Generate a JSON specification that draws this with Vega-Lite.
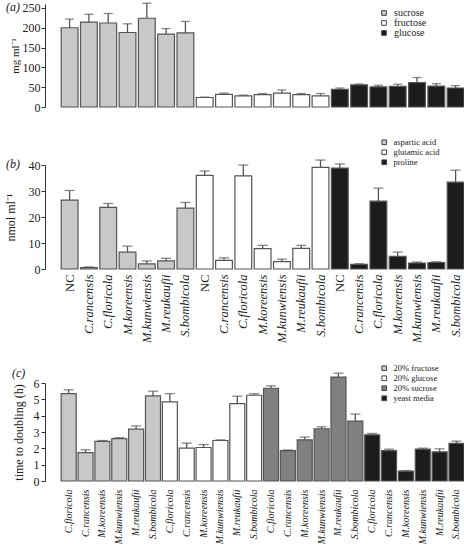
{
  "$schema": "https://vega.github.io/schema/vega-lite/v6.json",
  "padding": {"left": 4, "top": 0, "right": 0, "bottom": 0},
  "spacing": 20,
  "config": {
    "font": "Liberation Serif",
    "view": {"stroke": null},
    "axis": {"labelFont": "Liberation Serif", "titleFont": "Liberation Serif", "labelColor": "#222", "titleColor": "#222", "domainColor": "#333", "tickColor": "#333", "titleFontWeight": "normal", "grid": false, "labelFontSize": 12, "titleFontSize": 12, "labelOverlap": false},
    "legend": {"symbolType": "square", "symbolSize": 22, "symbolStrokeColor": "#444", "symbolStrokeWidth": 1, "labelFont": "Liberation Serif", "labelColor": "#222", "padding": 0, "labelOffset": 5, "rowPadding": 0},
    "title": {"font": "Liberation Serif", "fontSize": 12, "fontWeight": "normal", "fontStyle": "italic", "color": "#222", "anchor": "start", "frame": "group", "baseline": "middle", "offset": 0}
  },
  "resolve": {"scale": {"fill": "independent", "x": "independent", "y": "independent"}, "legend": {"fill": "independent"}},
  "vconcat": [
    {
      "width": 419,
      "height": 103,
      "title": {"text": "(a)", "dx": -39, "dy": 16},
      "data": {"values": [
        {"id": "suc|1", "sugar": "sucrose", "value": 200, "hi": 222},
        {"id": "suc|2", "sugar": "sucrose", "value": 214, "hi": 234},
        {"id": "suc|3", "sugar": "sucrose", "value": 212, "hi": 236},
        {"id": "suc|4", "sugar": "sucrose", "value": 188, "hi": 210},
        {"id": "suc|5", "sugar": "sucrose", "value": 224, "hi": 262},
        {"id": "suc|6", "sugar": "sucrose", "value": 184, "hi": 198},
        {"id": "suc|7", "sugar": "sucrose", "value": 187, "hi": 216},
        {"id": "fru|1", "sugar": "fructose", "value": 24, "hi": 25},
        {"id": "fru|2", "sugar": "fructose", "value": 32, "hi": 35},
        {"id": "fru|3", "sugar": "fructose", "value": 28, "hi": 30},
        {"id": "fru|4", "sugar": "fructose", "value": 31, "hi": 34},
        {"id": "fru|5", "sugar": "fructose", "value": 35, "hi": 43},
        {"id": "fru|6", "sugar": "fructose", "value": 31, "hi": 34},
        {"id": "fru|7", "sugar": "fructose", "value": 28, "hi": 34},
        {"id": "glu|1", "sugar": "glucose", "value": 44.5, "hi": 48},
        {"id": "glu|2", "sugar": "glucose", "value": 56, "hi": 58},
        {"id": "glu|3", "sugar": "glucose", "value": 51, "hi": 55},
        {"id": "glu|4", "sugar": "glucose", "value": 52, "hi": 57.5},
        {"id": "glu|5", "sugar": "glucose", "value": 61.5, "hi": 74.5},
        {"id": "glu|6", "sugar": "glucose", "value": 52.7, "hi": 59},
        {"id": "glu|7", "sugar": "glucose", "value": 48, "hi": 54}
      ]},
      "encoding": {
        "x": {"field": "id", "type": "nominal", "sort": null, "scale": {"paddingInner": 0.13, "paddingOuter": 0.42, "align": 1}, "axis": {"title": null, "labels": false, "ticks": false, "domain": false, "minExtent": 11}}
      },
      "layer": [
        {
          "mark": {"type": "bar", "stroke": "#555", "strokeWidth": 1.2},
          "encoding": {
            "y": {"field": "value", "type": "quantitative", "scale": {"domain": [0, 250]}, "axis": {"values": [0, 50, 100, 150, 200, 250], "tickCount": 20, "format": "d", "tickSize": 4, "labelPadding": 1, "title": "mg ml⁻¹", "titleFontSize": 11, "titlePadding": 2}},
            "fill": {"field": "sugar", "type": "nominal", "scale": {"domain": ["sucrose", "fructose", "glucose"], "range": ["#c8c8c8", "#ffffff", "#1c1c1c"]}, "legend": {"title": null, "orient": "none", "legendX": 334, "legendY": 4, "labelFontSize": 10}}
          }
        },
        {"mark": {"type": "rule", "color": "#555", "strokeWidth": 1.3}, "encoding": {"y": {"field": "value", "type": "quantitative"}, "y2": {"field": "hi"}}},
        {"mark": {"type": "tick", "color": "#555", "thickness": 1.3, "size": 9}, "encoding": {"y": {"field": "hi", "type": "quantitative"}}}
      ]
    },
    {
      "width": 419,
      "height": 104,
      "title": {"text": "(b)", "dx": -39, "dy": 37},
      "data": {"values": [
        {"id": "asp|NC", "amino": "aspartic acid", "value": 26.5, "hi": 30.2},
        {"id": "asp|C.rancensis", "amino": "aspartic acid", "value": 0.5, "hi": 0.8},
        {"id": "asp|C.floricola", "amino": "aspartic acid", "value": 23.7, "hi": 25.2},
        {"id": "asp|M.koreensis", "amino": "aspartic acid", "value": 6.5, "hi": 8.8},
        {"id": "asp|M.kunwiensis", "amino": "aspartic acid", "value": 2.0, "hi": 3.1},
        {"id": "asp|M.reukaufii", "amino": "aspartic acid", "value": 3.1, "hi": 4.1},
        {"id": "asp|S.bombicola", "amino": "aspartic acid", "value": 23.4, "hi": 25.6},
        {"id": "glu|NC", "amino": "glutamic acid", "value": 36, "hi": 37.7},
        {"id": "glu|C.rancensis", "amino": "glutamic acid", "value": 3.3, "hi": 4.3},
        {"id": "glu|C.floricola", "amino": "glutamic acid", "value": 35.8, "hi": 40},
        {"id": "glu|M.koreensis", "amino": "glutamic acid", "value": 7.8, "hi": 9.1},
        {"id": "glu|M.kunwiensis", "amino": "glutamic acid", "value": 2.8, "hi": 3.8},
        {"id": "glu|M.reukaufii", "amino": "glutamic acid", "value": 7.9, "hi": 9.1},
        {"id": "glu|S.bombicola", "amino": "glutamic acid", "value": 39.1, "hi": 41.9},
        {"id": "pro|NC", "amino": "proline", "value": 38.8, "hi": 40.4},
        {"id": "pro|C.rancensis", "amino": "proline", "value": 1.8, "hi": 2.0},
        {"id": "pro|C.floricola", "amino": "proline", "value": 26.1, "hi": 31.1},
        {"id": "pro|M.koreensis", "amino": "proline", "value": 4.9, "hi": 6.5},
        {"id": "pro|M.kunwiensis", "amino": "proline", "value": 2.3, "hi": 2.7},
        {"id": "pro|M.reukaufii", "amino": "proline", "value": 2.5, "hi": 2.8},
        {"id": "pro|S.bombicola", "amino": "proline", "value": 33.4, "hi": 38}
      ]},
      "encoding": {
        "x": {"field": "id", "type": "nominal", "sort": null, "scale": {"paddingInner": 0.13, "paddingOuter": 0.42, "align": 1},
          "axis": {"title": null, "labelAngle": -90, "labelExpr": "split(datum.value, '|')[1]", "labelFontSize": 12.5, "labelFontStyle": {"condition": {"test": "indexof(datum.value, '|NC') >= 0", "value": "normal"}, "value": "italic"}, "domain": false, "ticks": false, "labelPadding": 5, "minExtent": 75}}
      },
      "layer": [
        {
          "mark": {"type": "bar", "stroke": "#555", "strokeWidth": 1.2},
          "encoding": {
            "y": {"field": "value", "type": "quantitative", "scale": {"domain": [0, 40]}, "axis": {"values": [0, 10, 20, 30, 40], "tickCount": 20, "format": "d", "tickSize": 4, "labelPadding": 1, "title": "nmol ml⁻¹", "titlePadding": 11}},
            "fill": {"field": "amino", "type": "nominal", "scale": {"domain": ["aspartic acid", "glutamic acid", "proline"], "range": ["#c8c8c8", "#ffffff", "#1c1c1c"]}, "legend": {"title": null, "orient": "none", "legendX": 335, "legendY": -27, "labelFontSize": 8.5}}
          }
        },
        {"mark": {"type": "rule", "color": "#555", "strokeWidth": 1.3}, "encoding": {"y": {"field": "value", "type": "quantitative"}, "y2": {"field": "hi"}}},
        {"mark": {"type": "tick", "color": "#555", "thickness": 1.3, "size": 10}, "encoding": {"y": {"field": "hi", "type": "quantitative"}}}
      ]
    },
    {
      "width": 419,
      "height": 98,
      "title": {"text": "(c)", "dx": -33, "dy": 20},
      "data": {"values": [
        {"id": "fru|C.floricola", "medium": "20% fructose", "value": 5.35, "hi": 5.58},
        {"id": "fru|C.rancensis", "medium": "20% fructose", "value": 1.74, "hi": 1.91},
        {"id": "fru|M.koreensis", "medium": "20% fructose", "value": 2.42, "hi": 2.48},
        {"id": "fru|M.kunwiensis", "medium": "20% fructose", "value": 2.6, "hi": 2.65},
        {"id": "fru|M.reukaufii", "medium": "20% fructose", "value": 3.18, "hi": 3.37},
        {"id": "fru|S.bombicola", "medium": "20% fructose", "value": 5.21, "hi": 5.5},
        {"id": "glu|C.floricola", "medium": "20% glucose", "value": 4.84, "hi": 5.35},
        {"id": "glu|C.rancensis", "medium": "20% glucose", "value": 2.01, "hi": 2.32},
        {"id": "glu|M.koreensis", "medium": "20% glucose", "value": 2.05, "hi": 2.23},
        {"id": "glu|M.kunwiensis", "medium": "20% glucose", "value": 2.48, "hi": 2.52},
        {"id": "glu|M.reukaufii", "medium": "20% glucose", "value": 4.74, "hi": 5.19},
        {"id": "glu|S.bombicola", "medium": "20% glucose", "value": 5.25, "hi": 5.34},
        {"id": "suc|C.floricola", "medium": "20% sucrose", "value": 5.68, "hi": 5.83},
        {"id": "suc|C.rancensis", "medium": "20% sucrose", "value": 1.86, "hi": 1.9},
        {"id": "suc|M.koreensis", "medium": "20% sucrose", "value": 2.52, "hi": 2.69},
        {"id": "suc|M.kunwiensis", "medium": "20% sucrose", "value": 3.2, "hi": 3.32},
        {"id": "suc|M.reukaufii", "medium": "20% sucrose", "value": 6.36, "hi": 6.6},
        {"id": "suc|S.bombicola", "medium": "20% sucrose", "value": 3.67, "hi": 4.1},
        {"id": "yst|C.floricola", "medium": "yeast media", "value": 2.83, "hi": 2.91},
        {"id": "yst|C.rancensis", "medium": "yeast media", "value": 1.86, "hi": 1.95},
        {"id": "yst|M.koreensis", "medium": "yeast media", "value": 0.6, "hi": 0.63},
        {"id": "yst|M.kunwiensis", "medium": "yeast media", "value": 1.95, "hi": 2.01},
        {"id": "yst|M.reukaufii", "medium": "yeast media", "value": 1.78, "hi": 1.97},
        {"id": "yst|S.bombicola", "medium": "yeast media", "value": 2.3, "hi": 2.44}
      ]},
      "encoding": {
        "x": {"field": "id", "type": "nominal", "sort": null, "scale": {"paddingInner": 0.11, "paddingOuter": 0.48, "align": 1},
          "axis": {"title": null, "labelAngle": -90, "labelExpr": "split(datum.value, '|')[1]", "labelFontSize": 10, "labelFontStyle": "italic", "domain": false, "ticks": false, "labelPadding": 8}}
      },
      "layer": [
        {
          "mark": {"type": "bar", "stroke": "#555", "strokeWidth": 1.2},
          "encoding": {
            "y": {"field": "value", "type": "quantitative", "scale": {"domain": [0, 6]}, "axis": {"values": [0, 1, 2, 3, 4, 5, 6], "tickCount": 20, "format": "d", "tickSize": 4, "labelPadding": 2, "title": "time to doubling (h)", "titlePadding": 8}},
            "fill": {"field": "medium", "type": "nominal", "scale": {"domain": ["20% fructose", "20% glucose", "20% sucrose", "yeast media"], "range": ["#c8c8c8", "#ffffff", "#808080", "#1c1c1c"]}, "legend": {"title": null, "orient": "none", "legendX": 335, "legendY": -19, "labelFontSize": 8.5}}
          }
        },
        {"mark": {"type": "rule", "color": "#555", "strokeWidth": 1.3}, "encoding": {"y": {"field": "value", "type": "quantitative"}, "y2": {"field": "hi"}}},
        {"mark": {"type": "tick", "color": "#555", "thickness": 1.3, "size": 10}, "encoding": {"y": {"field": "hi", "type": "quantitative"}}}
      ]
    }
  ]
}
